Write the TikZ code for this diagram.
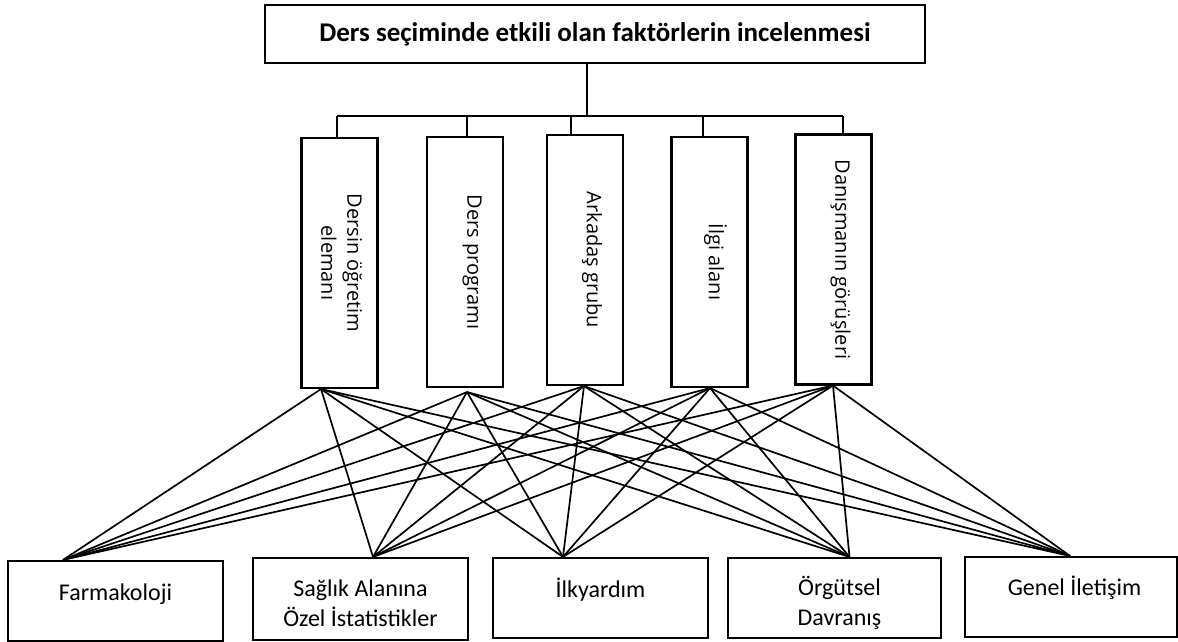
\documentclass[tikz,border=0pt]{standalone}
\usepackage{fontspec}
\setmainfont{Carlito}
\newfontfamily\vfont{Open Sans}
\usepackage{graphicx}
\begin{document}
\begin{tikzpicture}[x=1pt,y=-1pt,
  box/.style={draw, line width=2.1pt, fill=white, inner sep=0pt},
  vbox/.style={box, minimum width=76pt, minimum height=250pt, font=\vfont\fontsize{20}{26}\selectfont},
  bbox/.style={box, minimum height=80pt, font=\fontsize{24}{30}\selectfont},
  conn/.style={line width=1.7pt},
  tree/.style={line width=2pt}]
\useasboundingbox (0,0) rectangle (1178,642);
\fill[white] (0,0) rectangle (1178,642);

% title
\node[box, minimum width=660pt, minimum height=58pt, font=\fontsize{27}{32}\selectfont\bfseries] (top) at (595,34) {Ders seçiminde etkili olan faktörlerin incelenmesi};

% middle boxes
\node[vbox] (b1) at (339.5,263) {\rotatebox{-90}{\begin{tabular}{@{}c@{}}Dersin öğretim\\elemanı\end{tabular}}};
\node[vbox] (b2) at (465,262) {\hspace{14pt}\rotatebox{-90}{Ders programı}};
\node[vbox] (b3) at (585,260) {\hspace{14pt}\rotatebox{-90}{Arkadaş grubu}};
\node[vbox] (b4) at (709.5,262) {\hspace{12pt}\rotatebox{-90}{İlgi alanı}};
\node[vbox] (b5) at (833.5,259.5) {\hspace{14pt}\rotatebox{-90}{Danışmanın görüşleri}};

% bottom boxes
\node[bbox, minimum width=215pt] (c1) at (115.5,601) {\raisebox{0pt}[39pt][41pt]{Farmakoloji}};
\node[bbox, minimum width=215pt, minimum height=82pt] (c2) at (360.5,599) {\raisebox{0pt}[38pt][44pt]{\begin{tabular}[t]{@{}c@{}}Sağlık Alanına\\Özel İstatistikler\end{tabular}}\hspace{16pt}};
\node[bbox, minimum width=215pt] (c3) at (600.5,598) {\raisebox{0pt}[39pt][41pt]{İlkyardım}};
\node[bbox, minimum width=213pt] (c4) at (834.5,598) {\hspace{10pt}\raisebox{0pt}[37pt][43pt]{\begin{tabular}[t]{@{}c@{}}Örgütsel\\Davranış\end{tabular}}};
\node[bbox, minimum width=212pt] (c5) at (1071,597) {\hspace{7pt}\raisebox{0pt}[38pt][42pt]{Genel İletişim}};

% tree connectors
\coordinate (js) at (587,116);
\coordinate (j1) at (337,116);
\coordinate (j2) at (467,116);
\coordinate (j3) at (571,116);
\coordinate (j4) at (703,116);
\coordinate (j5) at (843,116);
\draw[tree] ([xshift=-8pt]top.south) -- (js);
\draw[tree] (j1) -- (j5);
\foreach \i in {1,...,5} {\draw[tree] (j\i) -- (j\i |- b\i.north);}

% cross connectors
\coordinate (o1) at ([xshift=-18.5pt]b1.south);
\coordinate (o2) at ([xshift=2pt,yshift=-4pt]b2.south);
\coordinate (o3) at ([xshift=-1pt]b3.south);
\coordinate (o4) at ([xshift=0.5pt]b4.south);
\coordinate (o5) at ([xshift=-0.5pt]b5.south);
\coordinate (t1) at ([xshift=-52.5pt]c1.north);
\coordinate (t2) at ([xshift=12.5pt]c2.north);
\coordinate (t3) at ([xshift=-37.5pt]c3.north);
\coordinate (t4) at ([xshift=15pt]c4.north);
\coordinate (t5) at ([xshift=-1pt]c5.north);
\foreach \a in {1,...,5} {
  \foreach \b in {1,...,5} {
    \draw[conn] (o\a) -- (t\b);
  }
}
\end{tikzpicture}
\end{document}
